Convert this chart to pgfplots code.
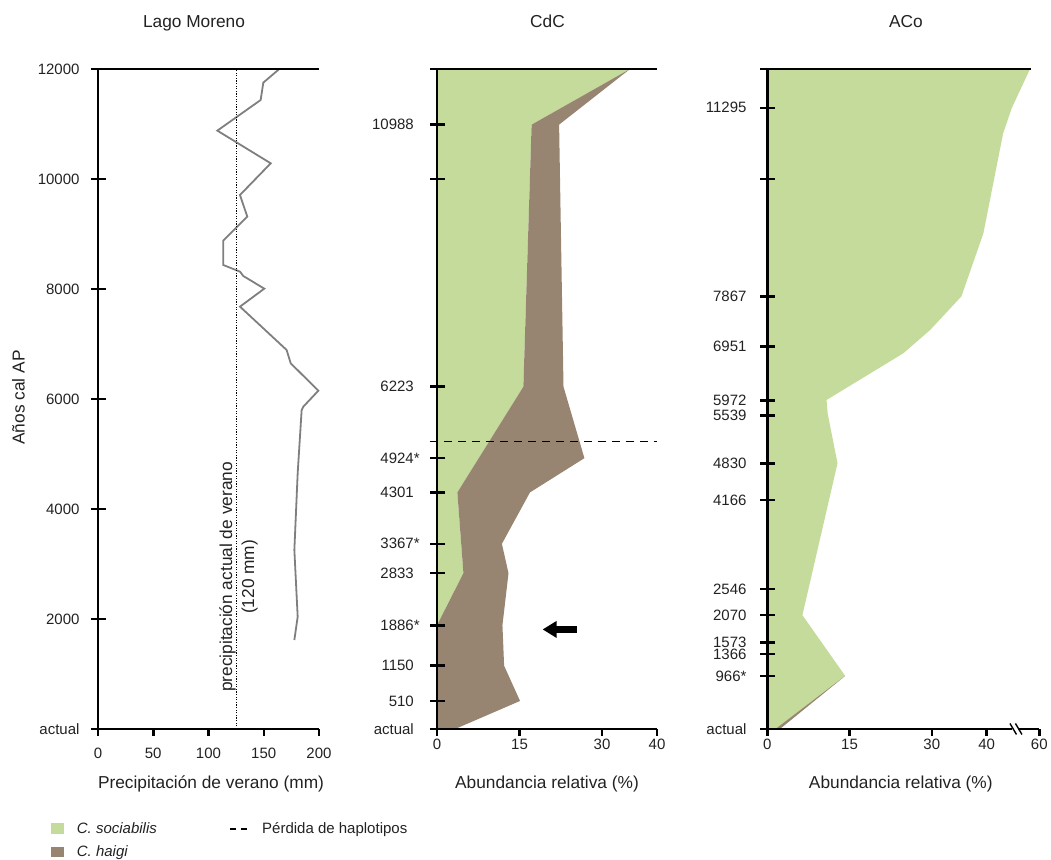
\documentclass[border=0pt]{standalone}
\usepackage{fontspec}
\setmainfont{Liberation Sans}
\usepackage{pgfplots}
\pgfplotsset{compat=1.18}
\usetikzlibrary{arrows.meta}
\definecolor{soc}{HTML}{C4DB9B}
\definecolor{hai}{HTML}{978572}
\definecolor{txt}{HTML}{222222}
\definecolor{lm}{HTML}{7F7F7F}
\newcommand{\tickfont}{\fontsize{15bp}{18bp}\selectfont}
\newcommand{\labfont}{\fontsize{17.3bp}{22bp}\selectfont}

\pgfplotsset{
  panel/.style={
    scale only axis, height=660bp, ymin=0, ymax=12000,
    axis lines*=left,
    axis line style={line width=2.5bp, black, -},
    every outer x axis line/.append style={-},
    every outer y axis line/.append style={-},
    tick align=outside, major tick length=7bp,
    tick style={line width=2.5bp, black},
    minor tick num=0,
    tick label style={font=\tickfont, text=txt},
    xlabel style={font=\labfont, text=txt, at={(axis description cs:0.5,0)}, anchor=base, yshift=-59.3bp},
    axis on top,
    clip=false,
    scaled ticks=false,
    /pgf/number format/assume math mode=true,
    anchor=south west,
  }
}

\begin{document}
\begin{tikzpicture}[x=1bp,y=1bp]
\useasboundingbox (0,0) rectangle (1051,860);

% ---------------- Panel 1: Lago Moreno
\begin{axis}[panel, at={(98bp,131bp)}, width=221bp, xmin=0, xmax=200,
  xtick={0,50,100,150,200}, xticklabels={0,50,100,150,200},
  xticklabel style={yshift=-9bp},
  ytick={0,2000,4000,6000,8000,10000,12000},
  yticklabels={actual,2000,4000,6000,8000,10000,12000},
  yticklabel style={xshift=-8bp},
  xlabel={Precipitación de verano (mm)}, xlabel style={xshift=2.5bp}]
\addplot[lm, line width=1.8bp] coordinates {
 (164.1,12000) (149.6,11752) (147.2,11436) (108.0,10879) (156.3,10285)
 (128.5,9709) (135.1,9315) (113.4,8879) (113.4,8436) (128.5,8315)
 (131.5,8236) (150.5,8006) (128.5,7679) (170.7,6891) (174.4,6649)
 (199.4,6151) (185.8,5860) (184.3,5800) (180.7,4649) (177.7,3255)
 (180.7,2042) (177.7,1618)};
\draw[line width=1.2bp, dash pattern=on 1.2bp off 1.4bp] (axis cs:125,0) -- (axis cs:125,12000);
\node[rotate=90, align=center, font=\labfont, text=txt] at (axis cs:127.1,2764) {precipitación actual de verano\\(120 mm)};
\draw[line width=2.5bp] (axis cs:0,12000) ++(-7bp,0) -- (axis cs:200,12000);
\pgfplotsinvokeforeach{0,2000,4000,6000,8000,10000}{\draw[line width=2.5bp] (axis cs:0,#1) -- ++(8bp,0);}
\end{axis}

% ---------------- Panel 2: CdC
\begin{axis}[panel, at={(437bp,131bp)}, width=220bp, xmin=0, xmax=40,
  xtick={0,15,30,40}, xticklabels={0,15,30,40},
  ytick={0,510,1150,1886,2833,3367,4301,4924,6223,10000,10988},
  yticklabels={actual,510,1150,1886\rlap{*},2833,3367\rlap{*},4301,4924\rlap{*},6223,{},10988},
  yticklabel style={xshift=-12.7bp},
  xlabel={Abundancia relativa (\%)}]
% C. sociabilis
\addplot[fill=soc, draw=none] coordinates {
 (0,12000) (35.1,12000) (17.2,10988) (15.7,6223) (3.7,4301) (4.8,2833) (0,1886) (0,12000)};
% C. haigi
\addplot[fill=hai, draw=none] coordinates {
 (35.1,12000) (22.2,10988) (23.0,6223) (26.8,4924) (16.9,4301) (11.8,3367)
 (13.0,2833) (11.9,1886) (12.2,1150) (15.1,510) (3.3,0) (0,0) (0,1886)
 (4.8,2833) (3.7,4301) (15.7,6223) (17.2,10988) (35.1,12000)};
\draw[line width=1.5bp, dash pattern=on 8bp off 6bp] (axis cs:0,5224) ++(-7bp,0) -- (axis cs:40,5224);
\draw[line width=7.5bp, -{Triangle[length=14bp,width=16bp]}] (axis cs:25.4,1810) -- (axis cs:19.2,1810);
\draw[line width=2.5bp] (axis cs:0,12000) ++(-7bp,0) -- (axis cs:40,12000);
\pgfplotsinvokeforeach{0,510,1150,1886,2833,3367,4301,4924,6223,10000,10988}{\draw[line width=2.5bp] (axis cs:0,#1) -- ++(8bp,0);}
\end{axis}

% ---------------- Panel 3: ACo
\begin{axis}[panel, at={(767.3bp,131bp)}, width=272bp, xmin=0, xmax=49.6,
  x axis line style={draw=none},
  xtick={0,15,30,40,49.6}, xticklabels={0,15,30,40,60},
  ytick={0,966,1366,1573,2070,2546,4166,4830,5700,5972,6951,7867,10000,11295},
  yticklabels={actual,966*,1366,1573,2070,2546,4166,4830,5539,5972,6951,7867,{},11295},
  yticklabel style={xshift=-10.3bp},
  xlabel={Abundancia relativa (\%)}, xlabel style={xshift=-2.5bp}]
% C. sociabilis
\addplot[fill=soc, draw=none] coordinates {
 (0,12000) (47.9,12000) (44.6,11295) (43.0,10830) (39.4,9012) (35.4,7867)
 (29.7,7255) (24.8,6831) (10.8,5982) (11.0,5740) (12.8,4830) (6.4,2070)
 (14.2,966) (1.7,0) (0,0) (0,12000)};
% C. haigi
\addplot[fill=hai, draw=none] coordinates {(14.2,966) (2.3,0) (1.5,0) (14.2,966)};
\draw[line width=2.5bp] (axis cs:0,12000) ++(-7bp,0) -- (axis cs:48.1,12000);
\draw[line width=2.5bp] (axis cs:0,0) -- (axis cs:44.7,0);
\draw[line width=2.5bp] (axis cs:45.8,0) -- (axis cs:49.6,0);
\draw[line width=1.4bp] (axis cs:44.25,0) ++(0,5.5bp) -- ++(6.5bp,-11bp);
\draw[line width=1.4bp] (axis cs:45.25,0) ++(0,5.5bp) -- ++(6.5bp,-11bp);
\pgfplotsinvokeforeach{0,966,1366,1573,2070,2546,4166,4830,5700,5972,6951,7867,10000,11295}{\draw[line width=2.5bp] (axis cs:0,#1) -- ++(8bp,0);}
\end{axis}

% titles and y label
\node[font=\labfont, text=txt, anchor=base] at (194,832.7) {Lago Moreno};
\node[font=\labfont, text=txt, anchor=base] at (547.5,832.7) {CdC};
\node[font=\labfont, text=txt, anchor=base] at (906,832.7) {ACo};
\node[font=\labfont, text=txt, rotate=90, anchor=base] at (24.5,462.5) {Años cal AP};

% legend
\fill[soc] (50.7,26) rectangle (64,37.3);
\fill[hai] (50.7,2.7) rectangle (64,13.3);
\node[font=\tickfont\itshape, text=txt, anchor=base west, inner sep=0] at (76.7,26) {C. sociabilis};
\node[font=\tickfont\itshape, text=txt, anchor=base west, inner sep=0] at (76.7,3.6) {C. haigi};
\draw[line width=1.6bp, dash pattern=on 6bp off 4.5bp] (230,30.7) -- (246.7,30.7);
\node[font=\tickfont, text=txt, anchor=base west, inner sep=0] at (262,26) {Pérdida de haplotipos};
\end{tikzpicture}
\end{document}
